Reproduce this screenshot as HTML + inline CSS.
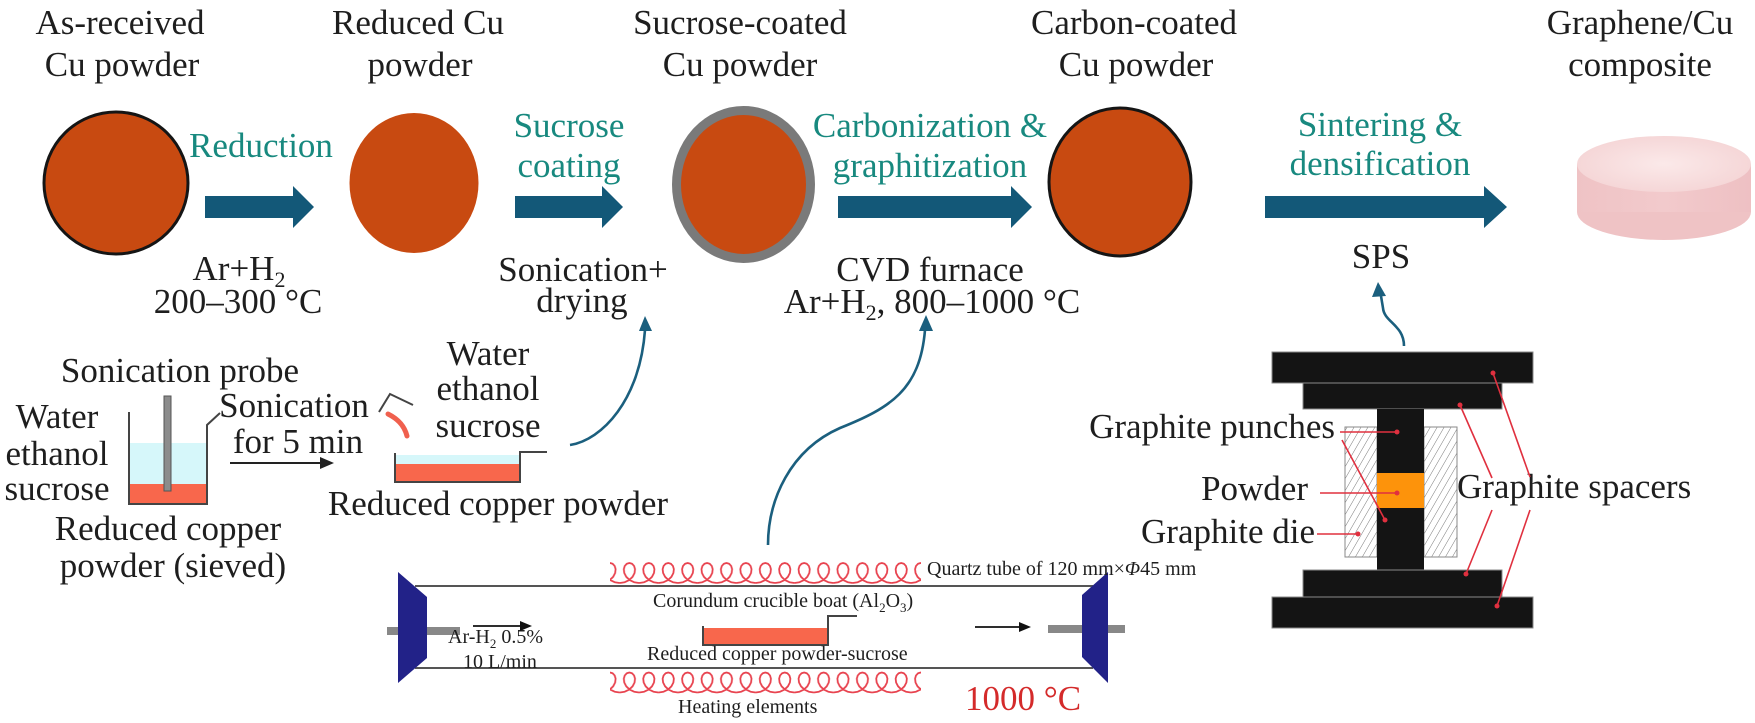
<!DOCTYPE html>
<html><head><meta charset="utf-8"><style>
html,body{margin:0;padding:0;background:#fff;}
svg{display:block;}
text{font-family:"Liberation Serif","DejaVu Serif",serif;fill:#1e1e1e;}
.t{font-size:35px;}
.teal{fill:#18897f;}
.s{font-size:20px;}
</style></head><body>
<svg width="1755" height="723" viewBox="0 0 1755 723" xmlns="http://www.w3.org/2000/svg">
<defs>
<pattern id="coil" patternUnits="userSpaceOnUse" x="600.3" y="560" width="19.416" height="26">
<polyline transform="translate(9.708,13)" fill="none" stroke="#e8434f" stroke-width="1.8" stroke-linejoin="round" points="-9.708,10 -4.667,9.239 -0.21,7.071 3.172,3.827 5.146,0 5.599,-3.827 4.644,-7.071 2.614,-9.239 0,-10 -2.614,-9.239 -4.644,-7.071 -5.599,-3.827 -5.146,0 -3.172,3.827 0.21,7.071 4.667,9.239 9.708,10"/>
</pattern>
<pattern id="hatch" patternUnits="userSpaceOnUse" width="6" height="6" patternTransform="rotate(30)">
<line x1="0" y1="0" x2="0" y2="6" stroke="#6a6a6a" stroke-width="0.9"/>
</pattern>
<linearGradient id="cylside" x1="0" y1="0" x2="1" y2="0">
<stop offset="0" stop-color="#efc3c5"/><stop offset="0.5" stop-color="#f2cacc"/><stop offset="1" stop-color="#eec0c3"/>
</linearGradient>
<radialGradient id="cyltop" cx="0.5" cy="0.5" r="0.6">
<stop offset="0" stop-color="#fbe9e9"/><stop offset="1" stop-color="#f4d3d4"/>
</radialGradient>
</defs>

<!-- Top labels -->
<text class="t" x="120" y="34" text-anchor="middle">As-received</text>
<text class="t" x="122" y="76" text-anchor="middle">Cu powder</text>
<text class="t" x="418" y="34" text-anchor="middle">Reduced Cu</text>
<text class="t" x="420" y="76" text-anchor="middle">powder</text>
<text class="t" x="740" y="34" text-anchor="middle">Sucrose-coated</text>
<text class="t" x="740" y="76" text-anchor="middle">Cu powder</text>
<text class="t" x="1134" y="34" text-anchor="middle">Carbon-coated</text>
<text class="t" x="1136" y="76" text-anchor="middle">Cu powder</text>
<text class="t" x="1640" y="34" text-anchor="middle">Graphene/Cu</text>
<text class="t" x="1640" y="76" text-anchor="middle">composite</text>

<!-- Particles -->
<ellipse cx="116" cy="183" rx="72" ry="71" fill="#c84a11" stroke="#151515" stroke-width="3"/>
<ellipse cx="414" cy="183" rx="64.5" ry="70" fill="#c84a11"/>
<ellipse cx="743.5" cy="184.5" rx="67" ry="74" fill="#c84a11" stroke="#7a7a7a" stroke-width="9"/>
<ellipse cx="1120" cy="182" rx="71" ry="74" fill="#c84a11" stroke="#151515" stroke-width="3"/>

<!-- Process arrows -->
<g fill="#135878">
<polygon points="205,196 293,196 293,186 314,207 293,228 293,218 205,218"/>
<polygon points="515,196 602,196 602,186 623,207 602,228 602,218 515,218"/>
<polygon points="838,196 1011,196 1011,186 1032,207 1011,228 1011,218 838,218"/>
<polygon points="1265,196 1484,196 1484,186 1507,207 1484,228 1484,218 1265,218"/>
</g>

<!-- Teal step labels -->
<text class="t teal" x="261" y="157" text-anchor="middle">Reduction</text>
<text class="t teal" x="569" y="137" text-anchor="middle">Sucrose</text>
<text class="t teal" x="569" y="177" text-anchor="middle">coating</text>
<text class="t teal" x="930" y="137" text-anchor="middle">Carbonization &amp;</text>
<text class="t teal" x="930" y="177" text-anchor="middle">graphitization</text>
<text class="t teal" x="1380" y="136" text-anchor="middle">Sintering &amp;</text>
<text class="t teal" x="1380" y="175" text-anchor="middle">densification</text>

<!-- Conditions -->
<text class="t" x="239" y="280" text-anchor="middle">Ar+H<tspan font-size="22" dy="7">2</tspan></text>
<text class="t" x="238" y="313" text-anchor="middle">200–300 °C</text>
<text class="t" x="583" y="281" text-anchor="middle">Sonication+</text>
<text class="t" x="582" y="312" text-anchor="middle">drying</text>
<text class="t" x="930" y="281" text-anchor="middle">CVD furnace</text>
<text class="t" x="932" y="313" text-anchor="middle">Ar+H<tspan font-size="22" dy="7">2</tspan><tspan dy="-7">, 800–1000 °C</tspan></text>
<text class="t" x="1381" y="268" text-anchor="middle">SPS</text>

<!-- Composite cylinder -->
<ellipse cx="1664" cy="212" rx="87" ry="28" fill="#efc3c5"/>
<rect x="1577" y="164" width="174" height="48" fill="url(#cylside)"/>
<ellipse cx="1664" cy="164" rx="87" ry="28" fill="url(#cyltop)"/>

<!-- Sonication beaker -->
<text class="t" x="180" y="382" text-anchor="middle">Sonication probe</text>
<text class="t" x="57" y="428" text-anchor="middle">Water</text>
<text class="t" x="57" y="465" text-anchor="middle">ethanol</text>
<text class="t" x="57" y="500" text-anchor="middle">sucrose</text>
<rect x="129" y="443" width="78" height="41" fill="#d6f7fa"/>
<rect x="129" y="484" width="78" height="20" fill="#f8674c"/>
<polyline points="129,412 129,504 207,504 207,425 220,413" fill="none" stroke="#444" stroke-width="2"/>
<rect x="164" y="396" width="7" height="95" fill="#8c8c8c" stroke="#555" stroke-width="1"/>
<text class="t" x="294" y="417" text-anchor="middle">Sonication</text>
<text class="t" x="298" y="453" text-anchor="middle">for 5 min</text>
<line x1="230" y1="463" x2="322" y2="463" stroke="#222" stroke-width="2"/>
<polygon points="334,463 320,457 320,469" fill="#222"/>
<text class="t" x="168" y="540" text-anchor="middle">Reduced copper</text>
<text class="t" x="173" y="577" text-anchor="middle">powder (sieved)</text>

<!-- Drying tray -->
<polyline points="413,405 390,394 379,412" fill="none" stroke="#444" stroke-width="2"/>
<path d="M388,414 C396,418 404,424 407,436" fill="none" stroke="#f0604e" stroke-width="5" stroke-linecap="round"/>
<text class="t" x="488" y="365" text-anchor="middle">Water</text>
<text class="t" x="488" y="400" text-anchor="middle">ethanol</text>
<text class="t" x="488" y="437" text-anchor="middle">sucrose</text>
<rect x="395" y="455" width="125" height="9" fill="#d6f7fa"/>
<rect x="395" y="464" width="125" height="18" fill="#f8674c"/>
<polyline points="395,453 395,482 520,482 520,452 547,452" fill="none" stroke="#444" stroke-width="2"/>
<text class="t" x="498" y="515" text-anchor="middle">Reduced copper powder</text>

<!-- Curved connectors -->
<g fill="none" stroke="#1b5f7e" stroke-width="2.6">
<path d="M570,445 C602,440 640,400 645,330"/>
<path d="M768,545 C768,500 790,450 840,428 C890,408 920,390 925,330"/>
<path d="M1404,346 C1404,325 1384,322 1383,308 L1381,296"/>
</g>
<g fill="#1b5f7e">
<polygon points="645,316 639,331 652,331"/>
<polygon points="926,315 919,331 933,331"/>
<polygon points="1378,282 1372,297 1386,296"/>
</g>

<!-- Furnace -->
<line x1="415" y1="586" x2="1093" y2="586" stroke="#555" stroke-width="2"/>
<line x1="415" y1="668" x2="1093" y2="668" stroke="#555" stroke-width="2"/>
<rect x="387" y="627" width="73" height="8" fill="#888"/>
<rect x="1048" y="625" width="77" height="8" fill="#888"/>
<polygon points="398,572 427,597 427,658 398,683" fill="#222288"/>
<polygon points="1108,572 1082,595 1082,657 1108,683" fill="#222288"/>
<rect x="610" y="560" width="311" height="26" fill="url(#coil)"/>
<g transform="translate(0,109.5)"><rect x="610" y="560" width="311" height="26" fill="url(#coil)"/></g>
<text class="s" x="927" y="575">Quartz tube of 120 mm×<tspan font-style="italic">Φ</tspan>45 mm</text>
<text class="s" x="653" y="607">Corundum crucible boat (Al<tspan font-size="13" dy="5">2</tspan><tspan dy="-5">O</tspan><tspan font-size="13" dy="5">3</tspan><tspan dy="-5">)</tspan></text>
<rect x="703" y="628" width="125" height="17" fill="#f8674c"/>
<polyline points="703,626 703,645 828,645 828,616 857,616" fill="none" stroke="#444" stroke-width="2"/>
<text class="s" x="647" y="660">Reduced copper powder-sucrose</text>
<text class="s" x="678" y="713">Heating elements</text>
<text class="s" x="448" y="643">Ar-H<tspan font-size="13" dy="5">2</tspan><tspan dy="-5"> 0.5%</tspan></text>
<text class="s" x="463" y="668">10 L/min</text>
<line x1="473" y1="626" x2="522" y2="626" stroke="#111" stroke-width="1.8"/>
<polygon points="532,626 520,621 520,631" fill="#111"/>
<line x1="975" y1="627" x2="1020" y2="627" stroke="#111" stroke-width="1.8"/>
<polygon points="1031,627 1019,622 1019,632" fill="#111"/>
<text class="t" x="965" y="710" style="fill:#d42a2a">1000 °C</text>

<!-- SPS apparatus -->
<g stroke="#8a8a8a" stroke-width="1">
<rect x="1272" y="352" width="261" height="31" fill="#141414"/>
<rect x="1303" y="383" width="199" height="26" fill="#141414"/>
<rect x="1345" y="427" width="32" height="130" fill="#fff"/>
<rect x="1424" y="427" width="33" height="130" fill="#fff"/>
<rect x="1345" y="427" width="32" height="130" fill="url(#hatch)"/>
<rect x="1424" y="427" width="33" height="130" fill="url(#hatch)"/>
<rect x="1377" y="409" width="47" height="161" fill="#141414" stroke="none"/>
<rect x="1377" y="473" width="47" height="35" fill="#fd930b" stroke="none"/>
<rect x="1303" y="570" width="199" height="27" fill="#141414"/>
<rect x="1272" y="597" width="261" height="31" fill="#141414"/>
</g>
<text class="t" x="1335" y="438" text-anchor="end">Graphite punches</text>
<text class="t" x="1308" y="500" text-anchor="end">Powder</text>
<text class="t" x="1315" y="543" text-anchor="end">Graphite die</text>
<text class="t" x="1457" y="498">Graphite spacers</text>
<g stroke="#e0303f" stroke-width="1.6" fill="none">
<line x1="1340" y1="432" x2="1397" y2="432"/>
<line x1="1342" y1="440" x2="1385" y2="520"/>
<line x1="1320" y1="493" x2="1397" y2="493"/>
<line x1="1317" y1="534" x2="1358" y2="534"/>
<line x1="1492" y1="478" x2="1460" y2="405"/>
<line x1="1530" y1="477" x2="1493" y2="373"/>
<line x1="1492" y1="510" x2="1466" y2="574"/>
<line x1="1530" y1="510" x2="1497" y2="606"/>
</g>
<g fill="#e0303f">
<circle cx="1397" cy="432" r="2.5"/>
<circle cx="1385" cy="520" r="2.5"/>
<circle cx="1397" cy="493" r="2.5"/>
<circle cx="1358" cy="534" r="2.5"/>
<circle cx="1460" cy="405" r="2.5"/>
<circle cx="1493" cy="373" r="2.5"/>
<circle cx="1466" cy="574" r="2.5"/>
<circle cx="1497" cy="606" r="2.5"/>
</g>
</svg>
</body></html>
